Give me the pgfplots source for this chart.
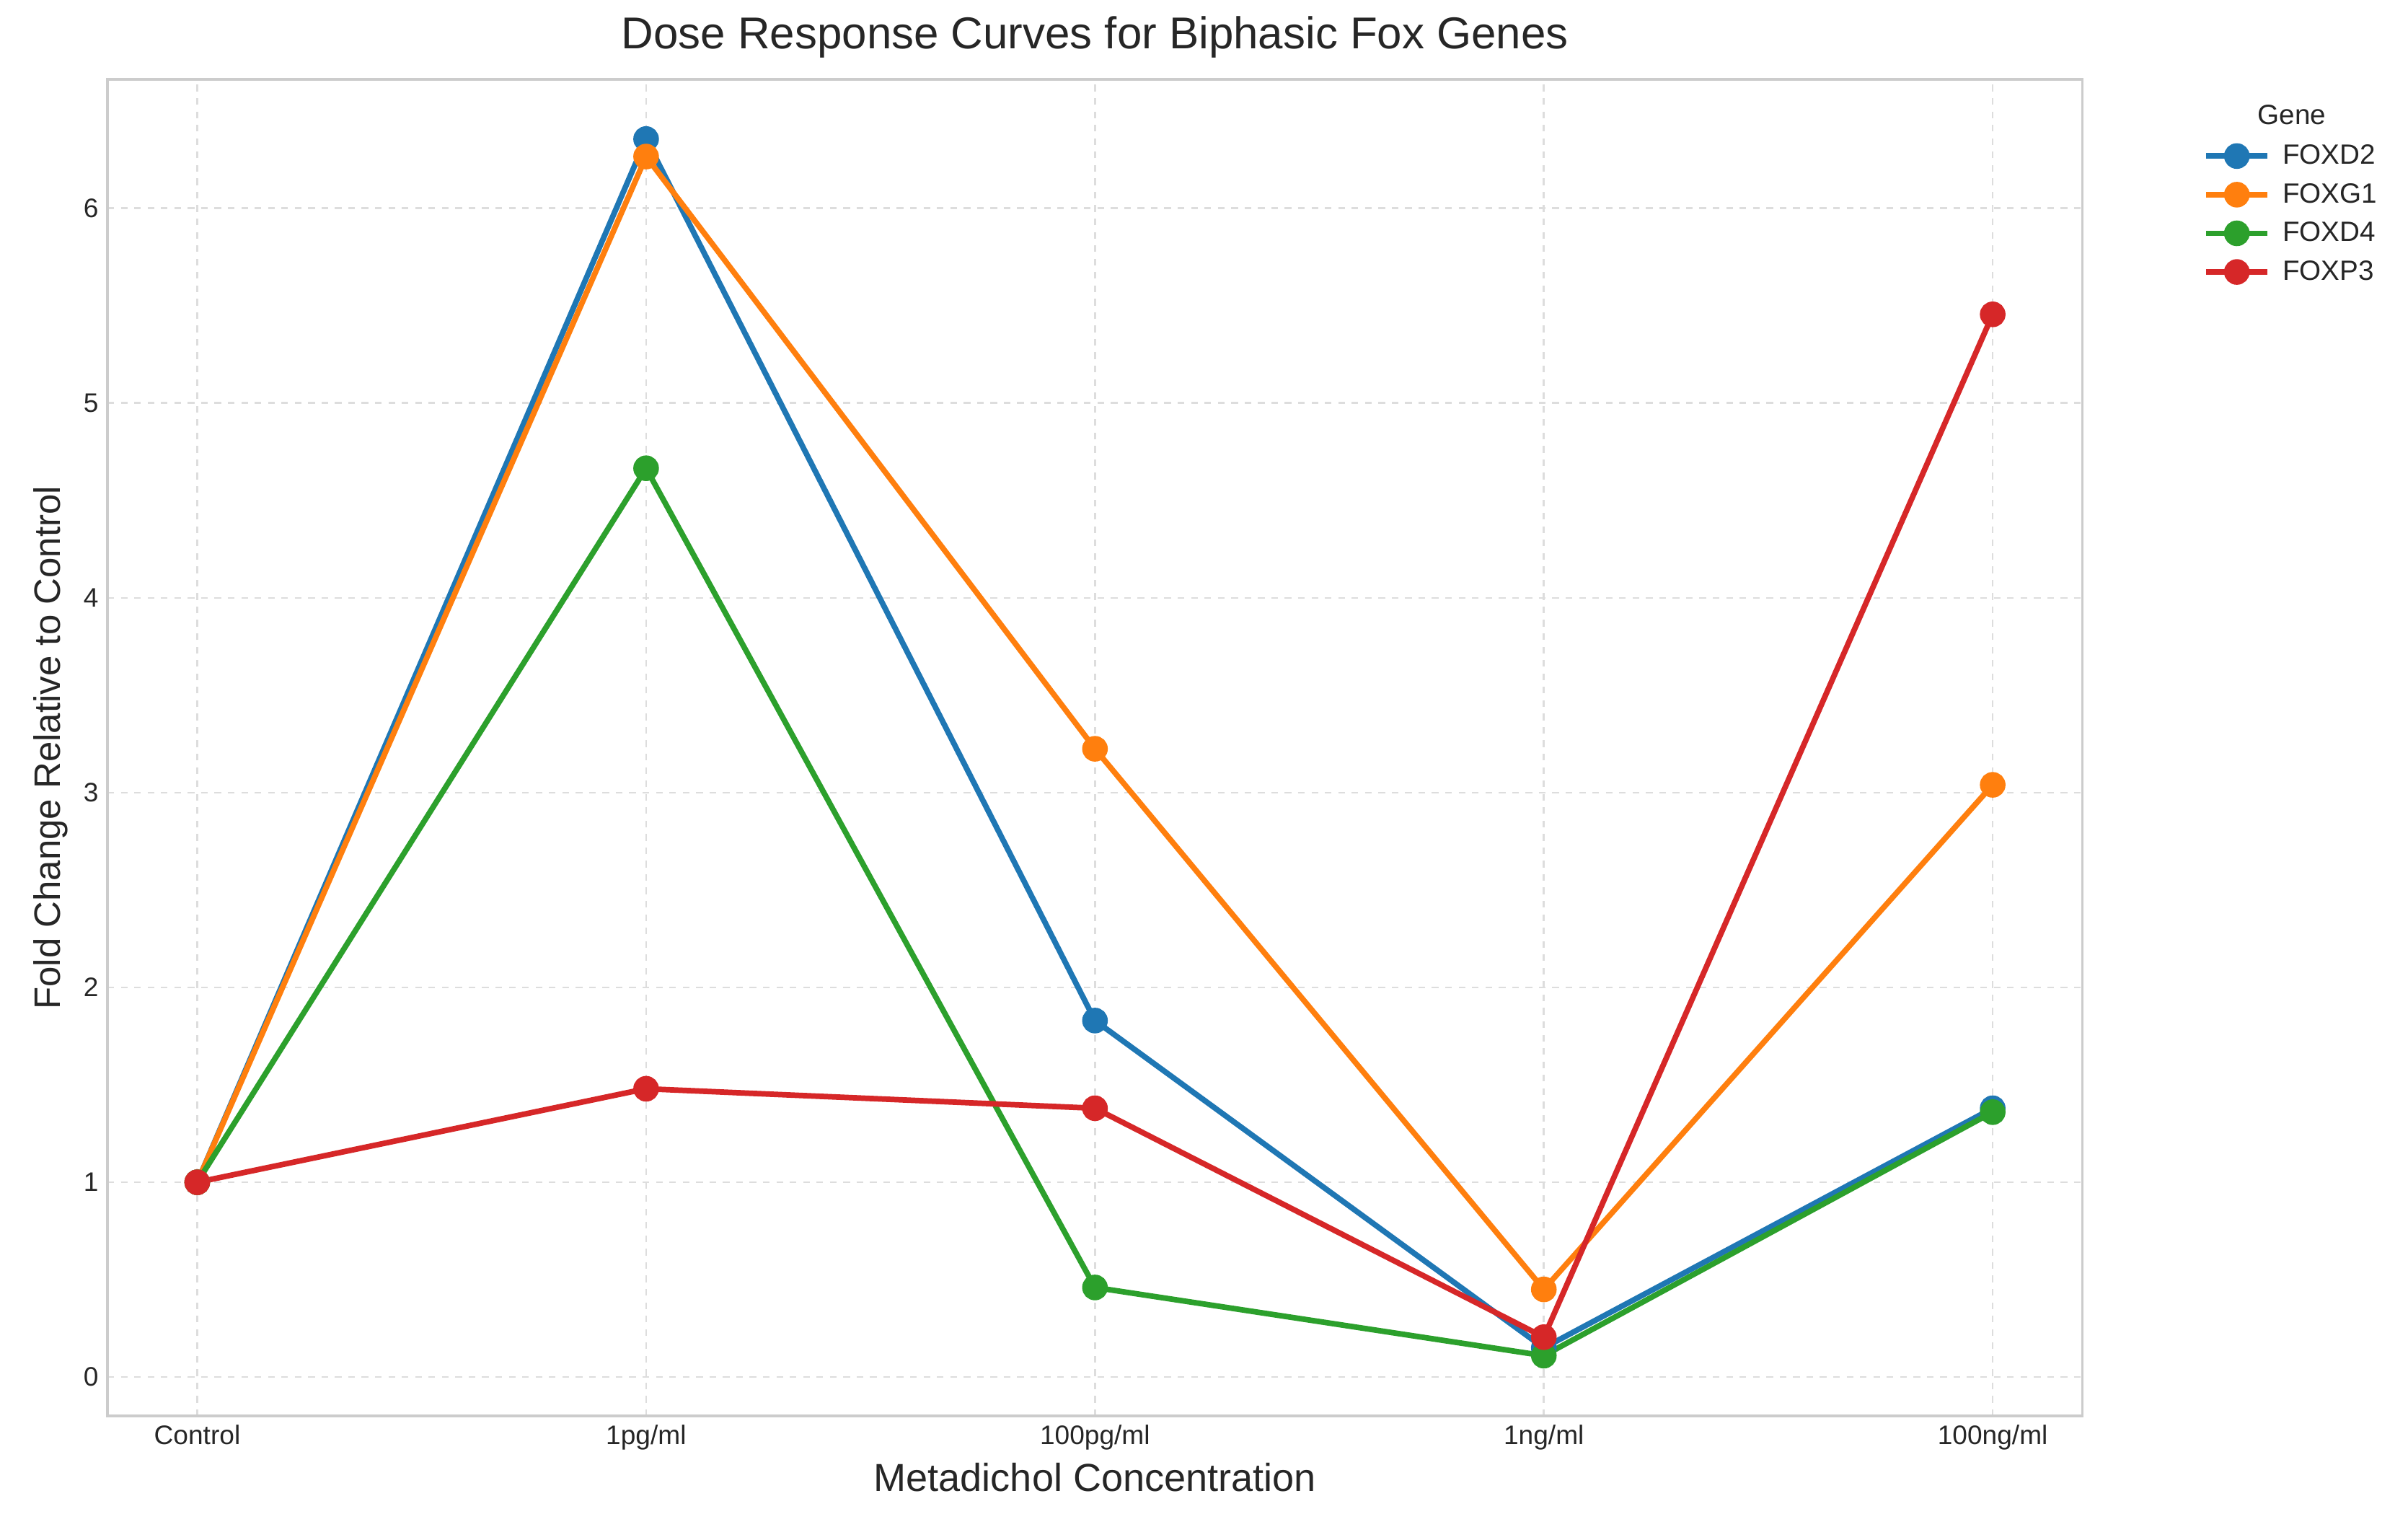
\documentclass[border=0pt]{standalone}
\usepackage{fontspec}
\setmainfont{Liberation Sans}
\usepackage{pgfplots}
\pgfplotsset{compat=1.18}
\definecolor{c1}{HTML}{1F77B4}
\definecolor{c2}{HTML}{FF7F0E}
\definecolor{c3}{HTML}{2CA02C}
\definecolor{c4}{HTML}{D62728}
\definecolor{gridc}{HTML}{DDDDDD}
\definecolor{framec}{HTML}{CCCCCC}
\definecolor{txt}{HTML}{262626}
\begin{document}
\begin{tikzpicture}
\path[use as bounding box] (0,0) rectangle (1080pt,684.6pt);
\begin{axis}[
  at={(48.2pt,49.6pt)}, anchor=south west,
  scale only axis, width=885.8pt, height=599.3pt,
  xmin=-0.2, xmax=4.2, ymin=-0.2, ymax=6.66,
  xtick={0,1,2,3,4},
  xticklabels={Control,1pg/ml,100pg/ml,1ng/ml,100ng/ml},
  ytick={0,1,2,3,4,5,6},
  /pgf/number format/assume math mode=true,
  major tick length=0pt,
  tick label style={font=\fontsize{12}{14}\selectfont, text=txt},
  xticklabel style={yshift=-0.5pt},
  yticklabel style={xshift=-0.5pt},
  axis line style={draw=framec, line width=1.2pt},
  grid=major,
  major grid style={draw=gridc, dashed, line width=0.8pt},
  title={Dose Response Curves for Biphasic Fox Genes},
  title style={font=\fontsize{20}{24}\selectfont, text=txt, at={(axis description cs:0.5,1.022)}, anchor=center, yshift=0pt},
  xlabel={Metadichol Concentration},
  xlabel style={font=\fontsize{17.5}{21}\selectfont, text=txt, at={(axis description cs:0.5,-0.046)}, anchor=center},
  ylabel={Fold Change Relative to Control},
  ylabel style={font=\fontsize{16.5}{20}\selectfont, text=txt, at={(axis description cs:-0.0288,0.5)}, anchor=center},
  legend style={at={(axis description cs:1.061,0.955)}, anchor=north west, draw=none, fill=none, inner sep=0pt,
    font=\fontsize{12.5}{15}\selectfont, text=txt, row sep=3.1pt,
    /tikz/every odd column/.append style={column sep=3.5pt}},
  legend cell align=left,
  legend image code/.code={\draw[mark repeat=2,mark phase=2] plot coordinates {(0pt,0pt)(13.75pt,0pt)(27.5pt,0pt)};},
  every axis plot/.append style={line width=2.5pt, mark=*, mark size=4.5pt, mark options={solid}},
  clip=false,
]
\addplot[c1, mark options={fill=c1, draw=c1}] coordinates {(0,1) (1,6.355) (2,1.83) (3,0.15) (4,1.38)};
\addlegendentry{FOXD2}
\addplot[c2, mark options={fill=c2, draw=c2}] coordinates {(0,1) (1,6.265) (2,3.225) (3,0.45) (4,3.04)};
\addlegendentry{FOXG1}
\addplot[c3, mark options={fill=c3, draw=c3}] coordinates {(0,1) (1,4.665) (2,0.46) (3,0.11) (4,1.36)};
\addlegendentry{FOXD4}
\addplot[c4, mark options={fill=c4, draw=c4}] coordinates {(0,1) (1,1.48) (2,1.38) (3,0.205) (4,5.455)};
\addlegendentry{FOXP3}
\node[font=\fontsize{12.5}{15}\selectfont, text=txt, anchor=center] at (axis description cs:1.106,0.9736) {Gene};
\end{axis}
\end{tikzpicture}
\end{document}
